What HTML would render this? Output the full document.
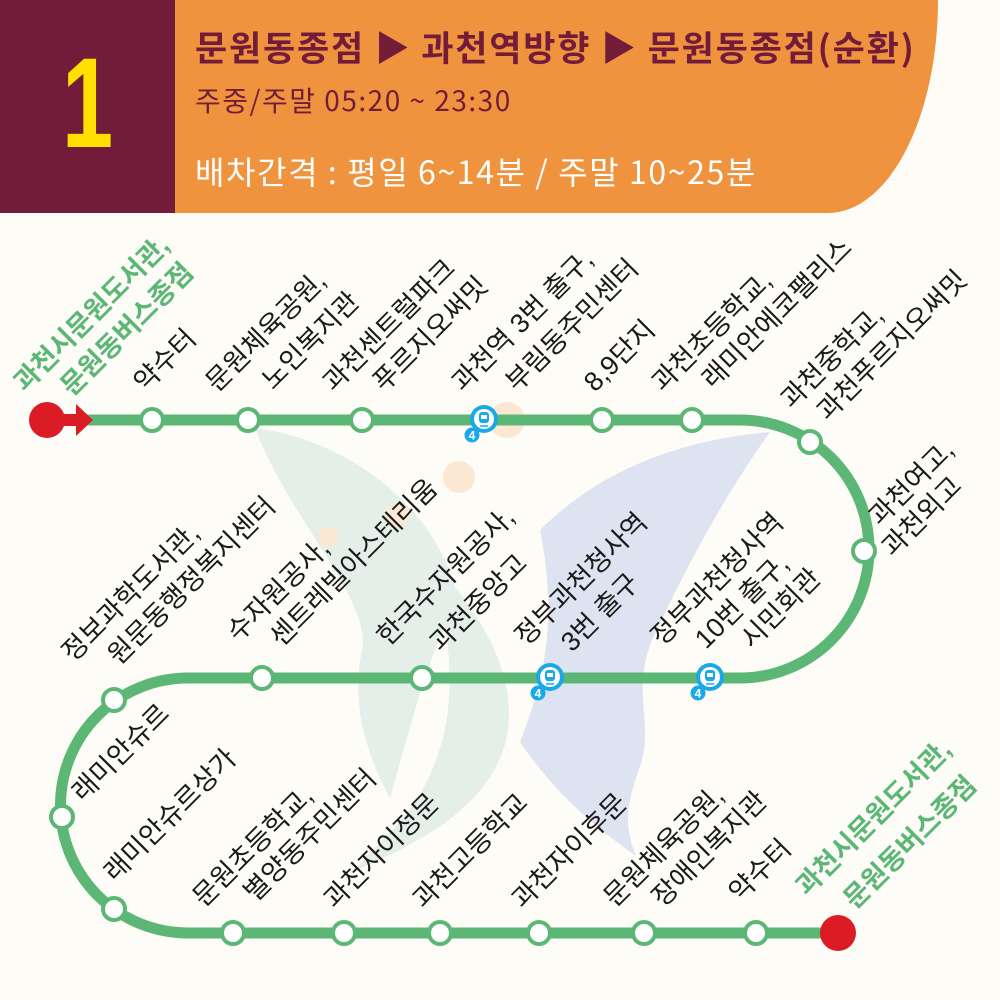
<!DOCTYPE html>
<html><head><meta charset="utf-8">
<style>
html,body{margin:0;padding:0;background:#fdfcf7;}
body{width:1000px;height:1000px;position:relative;overflow:hidden;font-family:"Liberation Sans","Noto Sans CJK KR",sans-serif;}
.mar{position:absolute;left:0;top:0;width:175px;height:213px;background:#731c3a;}
.org{position:absolute;left:175px;top:0;width:763px;height:213px;background:#f0933e;border-bottom-right-radius:110px 213px;}
.one{position:absolute;left:0;top:40px;width:175px;text-align:center;font-size:128px;font-weight:bold;color:#ffe000;line-height:1;transform:scaleX(0.72);}
.t1{position:absolute;left:195px;top:29px;font-size:35px;line-height:1;font-weight:bold;color:#731c3a;font-family:"Noto Sans CJK KR",sans-serif;white-space:nowrap;letter-spacing:1.8px;}
.t2{position:absolute;left:195px;top:86px;font-size:28px;line-height:1;color:#731c3a;font-family:"Noto Sans CJK KR",sans-serif;white-space:nowrap;letter-spacing:1.5px;}
.t3{position:absolute;left:195px;top:155px;font-size:32px;line-height:1;color:#fff;font-family:"Noto Sans CJK KR",sans-serif;white-space:nowrap;letter-spacing:1.6px;}
svg{position:absolute;left:0;top:0;}
svg text{font-family:"Liberation Sans","Noto Sans CJK KR",sans-serif;font-size:27px;fill:#1a1a1a;}
svg text.g{fill:#5cb776;font-weight:bold;font-size:27px;}
</style></head><body>
<div class="mar"></div>
<div class="org"></div>
<div class="one">1</div>
<div class="t1">문원동종점 ▶ 과천역방향 ▶ 문원동종점(순환)</div>
<div class="t2">주중/주말 05:20 ~ 23:30</div>
<div class="t3">배차간격 : 평일 6~14분 / 주말 10~25분</div>
<svg width="1000" height="1000" viewBox="0 0 1000 1000">
<path d="M255,428 C350,440 440,510 458,600 C430,650 412,720 390,798 C362,745 352,700 362,650 C372,600 290,520 255,428 Z" fill="#e3efe8"/>
<path d="M430,560 C482,610 520,680 506,740 C492,800 430,840 355,870 L372,850 C452,780 468,690 430,560 Z" fill="#e3efe8"/>
<path d="M540,530 C600,470 680,440 770,432 C722,500 690,560 652,640 C632,690 652,720 642,760 C628,800 622,822 636,856 C600,830 560,800 520,742 C540,690 560,630 540,530 Z" fill="#dde3f0"/>
<circle cx="507" cy="420" r="18" fill="#fbe8d3"/>
<circle cx="459" cy="477" r="16" fill="#fbe8d3"/>
<circle cx="397" cy="515" r="12" fill="#fbe8d3"/>
<circle cx="328" cy="537" r="10" fill="#fbe8d3"/>
<path d="M60 420 H740 A129 129 0 0 1 740 678 H188 A127.5 127.5 0 0 0 188 933 H838" fill="none" stroke="#5cb776" stroke-width="11"/>
<circle cx="47" cy="420" r="18" fill="#dc1c24"/>
<rect x="55" y="414" width="25" height="12" fill="#dc1c24"/>
<polygon points="76,404 93,420 76,436" fill="#dc1c24"/>
<circle cx="838" cy="933" r="18" fill="#dc1c24"/>
<g fill="#fff" stroke="#5cb776" stroke-width="4">
<circle cx="152" cy="420" r="11"/><circle cx="248" cy="420" r="11"/><circle cx="362" cy="420" r="11"/>
<circle cx="602" cy="420" r="11"/><circle cx="692" cy="420" r="11"/><circle cx="810" cy="442" r="11"/>
<circle cx="864" cy="551" r="11"/>
<circle cx="422" cy="678" r="11"/><circle cx="262" cy="678" r="11"/><circle cx="114" cy="700" r="11"/>
<circle cx="62" cy="817" r="11"/><circle cx="114" cy="909" r="11"/>
<circle cx="233" cy="933" r="11"/><circle cx="344" cy="933" r="11"/><circle cx="440" cy="933" r="11"/>
<circle cx="539" cy="933" r="11"/><circle cx="644" cy="933" r="11"/><circle cx="756" cy="933" r="11"/>
</g>
<defs>
<g id="sub">
<circle cx="0" cy="0" r="14" fill="#1aa9e8"/>
<circle cx="0" cy="0" r="10" fill="#fff"/>
<rect x="-5" y="-7" width="10" height="11" rx="3" fill="#1aa9e8"/>
<rect x="-3" y="-4" width="6" height="4" fill="#fff"/>
<line x1="-4" y1="7" x2="4" y2="7" stroke="#1aa9e8" stroke-width="1.5"/>
<circle cx="-12" cy="16" r="7.5" fill="#1aa9e8"/>
<text x="-12" y="20.5" text-anchor="middle" style="font-size:12px;font-weight:bold;fill:#fff">4</text>
</g>
</defs>
<use href="#sub" x="484" y="419"/>
<use href="#sub" x="550" y="677"/>
<use href="#sub" x="710" y="677"/>
<text class="g" x="25" y="393" transform="rotate(-45 25 393)">과천시문원도서관,</text>
<text class="g" x="72" y="397" transform="rotate(-45 72 397)">문원동버스종점</text>
<text x="145" y="393" transform="rotate(-45 145 393)">약수터</text>
<text x="217" y="393" transform="rotate(-45 217 393)">문원체육공원,</text>
<text x="273" y="391" transform="rotate(-45 273 391)">노인복지관</text>
<text x="334" y="393" transform="rotate(-45 334 393)">과천센트럴파크</text>
<text x="384" y="393" transform="rotate(-45 384 393)">푸르지오써밋</text>
<text x="463" y="393" transform="rotate(-45 463 393)">과천역 3번 출구,</text>
<text x="517" y="393" transform="rotate(-45 517 393)">부림동주민센터</text>
<text x="595" y="393" transform="rotate(-45 595 393)">8,9단지</text>
<text x="663" y="393" transform="rotate(-45 663 393)">과천초등학교,</text>
<text x="713" y="390" transform="rotate(-45 713 390)">래미안에코팰리스</text>
<text x="792" y="410" transform="rotate(-45 792 410)">과천중학교,</text>
<text x="828" y="422" transform="rotate(-45 828 422)">과천푸르지오써밋</text>
<text x="880" y="527" transform="rotate(-45 880 527)">과천여고,</text>
<text x="893" y="558" transform="rotate(-45 893 558)">과천외고</text>
<text x="73" y="663" transform="rotate(-45 73 663)">정보과학도서관,</text>
<text x="119" y="666" transform="rotate(-45 119 666)">원문동행정복지센터</text>
<text x="238" y="643" transform="rotate(-45 238 643)">수자원공사,</text>
<text x="281" y="648" transform="rotate(-45 281 648)">센트레빌아스테리움</text>
<text x="388" y="647" transform="rotate(-45 388 647)">한국수자원공사,</text>
<text x="441" y="653" transform="rotate(-45 441 653)">과천중앙고</text>
<text x="526" y="647" transform="rotate(-45 526 647)">정부과천청사역</text>
<text x="572" y="653" transform="rotate(-45 572 653)">3번 출구</text>
<text x="662" y="647" transform="rotate(-45 662 647)">정부과천청사역</text>
<text x="706" y="650" transform="rotate(-45 706 650)">10번 출구,</text>
<text x="752" y="650" transform="rotate(-45 752 650)">시민회관</text>
<text x="83" y="803" transform="rotate(-45 83 803)">래미안슈르</text>
<text x="115" y="883" transform="rotate(-45 115 883)">래미안슈르상가</text>
<text x="204" y="908" transform="rotate(-45 204 908)">문원초등학교,</text>
<text x="255" y="903" transform="rotate(-45 255 903)">별양동주민센터</text>
<text x="335" y="910" transform="rotate(-45 335 910)">과천자이정문</text>
<text x="424" y="910" transform="rotate(-45 424 910)">과천고등학교</text>
<text x="523" y="910" transform="rotate(-45 523 910)">과천자이후문</text>
<text x="615" y="908" transform="rotate(-45 615 908)">문원체육공원,</text>
<text x="663" y="908" transform="rotate(-45 663 908)">장애인복지관</text>
<text x="740" y="903" transform="rotate(-45 740 903)">약수터</text>
<text class="g" x="807" y="897" transform="rotate(-45 807 897)">과천시문원도서관,</text>
<text class="g" x="855" y="910" transform="rotate(-45 855 910)">문원동버스종점</text>
</svg>
</body></html>
